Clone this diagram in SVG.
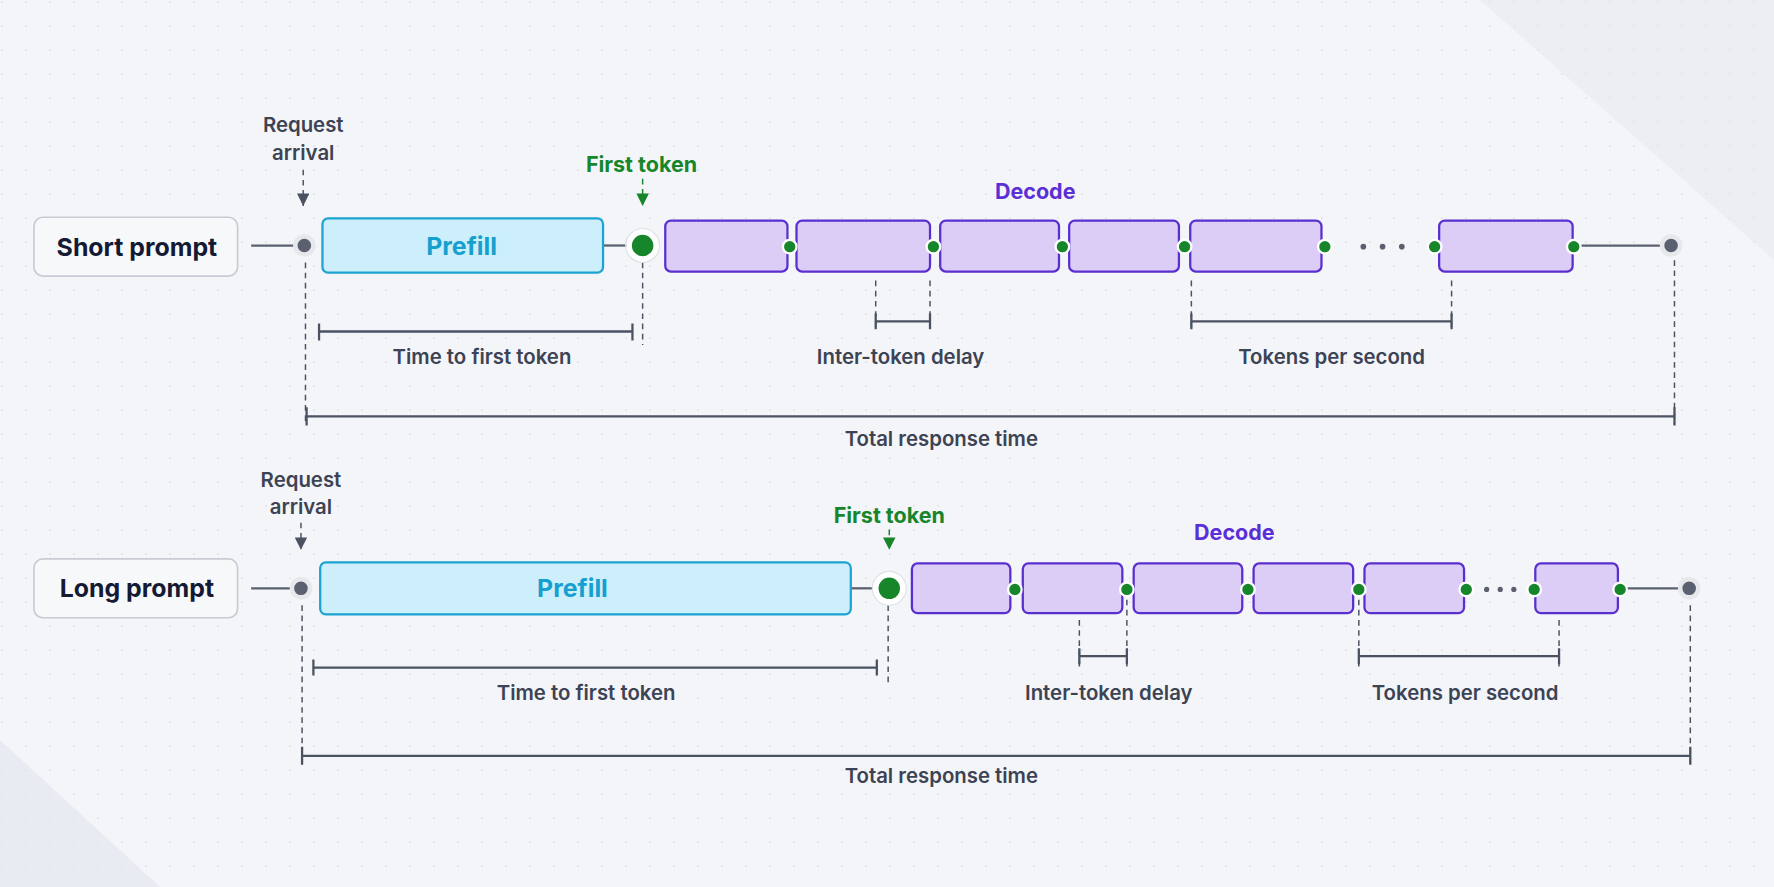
<svg xmlns="http://www.w3.org/2000/svg" width="1774" height="887" viewBox="0 0 1774 887">
<defs>
<pattern id="grid" width="24" height="24" patternUnits="userSpaceOnUse"><circle cx="2" cy="2" r="0.9" fill="#dfe2e8"/></pattern>
<marker id="ag" viewBox="0 0 10 10" refX="10" refY="5" markerWidth="11" markerHeight="11" markerUnits="userSpaceOnUse" orient="auto"><path d="M0,0 L10,5 L0,10 Z" fill="#4a5262"/></marker>
<marker id="agg" viewBox="0 0 10 10" refX="10" refY="5" markerWidth="11" markerHeight="11" markerUnits="userSpaceOnUse" orient="auto"><path d="M0,0 L10,5 L0,10 Z" fill="#17862b"/></marker>
<style>
text{font-family:Inter,"Liberation Sans",sans-serif;text-anchor:middle}
.lbl{font-size:18px;font-weight:600;fill:#3c4354}
.ttl{font-size:22px;font-weight:700;fill:#141a33}
.grn{font-size:19px;font-weight:700;fill:#17862b}
.pur{font-size:19px;font-weight:700;fill:#5b2fd6}
.pre{font-size:22px;font-weight:700;fill:#16a0cf}
.pbox{fill:#cdeffb;stroke:#1ba3d1;stroke-width:2}
.dbox{fill:#dccdf6;stroke:#5a2fcf;stroke-width:2}
.tbox{fill:#f7f8fa;stroke:#c8cbd3;stroke-width:1.5}
.sd{fill:#17862b;stroke:#fff;stroke-width:2}
.bd{fill:#17862b;stroke:#fff;stroke-width:5}
.bdr{fill:none;stroke:#dfe2e8;stroke-width:1}
.gd{fill:#5a6070;stroke:#e6e8ec;stroke-width:4}
.ln{stroke:#5a6070;stroke-width:2;fill:none}
.br{stroke:#4a5262;stroke-width:2;fill:none}
.ds{stroke:#4a5262;stroke-width:1.3;stroke-dasharray:5 4;fill:none}
.ell{fill:#5a6070}
</style>
</defs>
<rect width="1774" height="887" fill="#f4f5f8"/>
<polygon points="1480,0 1774,0 1774,260" fill="#eceef4"/>
<polygon points="0,740 0,887 160,887" fill="#e9ebf2"/>
<rect width="1774" height="887" fill="url(#grid)"/>
<g transform="scale(1.1314)">
<g id="connectors">
<line class="ln" x1="222" y1="217" x2="262" y2="217"/>
<line class="ln" x1="533" y1="217" x2="560" y2="217"/>
<line class="ln" x1="1392" y1="217" x2="1470" y2="217"/>
<line class="ds" x1="268" y1="150" x2="268" y2="182" marker-end="url(#ag)"/>
<line class="ds" x1="568" y1="158" x2="568" y2="182" marker-end="url(#agg)" style="stroke:#17862b"/>
<line class="ds" x1="270" y1="232" x2="270" y2="375"/>
<line class="ds" x1="568" y1="232" x2="568" y2="305"/>
<line class="ds" x1="1480" y1="230" x2="1480" y2="375"/>
<line class="ds" x1="774" y1="248" x2="774" y2="292"/>
<line class="ds" x1="822" y1="248" x2="822" y2="292"/>
<line class="ds" x1="1053" y1="248" x2="1053" y2="292"/>
<line class="ds" x1="1283" y1="248" x2="1283" y2="292"/>
<path class="br" d="M282,286V301M282,293H559M559,286V301"/>
<path class="br" d="M774,277V291M774,284H822M822,277V291"/>
<path class="br" d="M1053,277V291M1053,284H1283M1283,277V291"/>
<path class="br" d="M271,360V376M271,368H1480M1480,360V376"/>
<line class="ln" x1="222" y1="520" x2="258" y2="520"/>
<line class="ln" x1="752" y1="520" x2="778" y2="520"/>
<line class="ln" x1="1433" y1="520" x2="1484" y2="520"/>
<line class="ds" x1="266" y1="462" x2="266" y2="486" marker-end="url(#ag)"/>
<line class="ds" x1="786" y1="468" x2="786" y2="486" marker-end="url(#agg)" style="stroke:#17862b"/>
<line class="ds" x1="267" y1="535" x2="267" y2="675"/>
<line class="ds" x1="785" y1="535" x2="785" y2="603"/>
<line class="ds" x1="1494" y1="535" x2="1494" y2="675"/>
<line class="ds" x1="954" y1="548" x2="954" y2="590"/>
<line class="ds" x1="996" y1="530" x2="996" y2="590"/>
<line class="ds" x1="1201" y1="530" x2="1201" y2="590"/>
<line class="ds" x1="1378" y1="548" x2="1378" y2="590"/>
<path class="br" d="M277,583V597M277,590H775M775,583V597"/>
<path class="br" d="M954,573V587M954,580H996M996,573V587"/>
<path class="br" d="M1201,573V587M1201,580H1378M1378,573V587"/>
<path class="br" d="M267,660V676M267,668H1494M1494,660V676"/>
</g>
<g id="row-short">
<g id="short-label"><rect class="tbox" x="30" y="192" width="180" height="52" rx="8"/><text class="ttl" x="121" y="226">Short prompt</text></g>
<g id="short-arrival"><text class="lbl" x="268" y="117">Request</text><text class="lbl" x="268" y="141">arrival</text><circle class="gd" cx="269" cy="217" r="8"/></g>
<g id="short-prefill"><rect class="pbox" x="285" y="193" width="248" height="48" rx="5"/><text class="pre" x="408" y="225">Prefill</text></g>
<g id="short-first"><text class="grn" x="567" y="152">First token</text><circle class="bd" cx="568" cy="217" r="12"/><circle class="bdr" cx="568" cy="217" r="15"/></g>
<g id="short-decode"><text class="pur" x="915" y="176">Decode</text>
<rect class="dbox" x="588" y="195" width="108" height="45" rx="5"/>
<rect class="dbox" x="704" y="195" width="118" height="45" rx="5"/>
<rect class="dbox" x="831" y="195" width="105" height="45" rx="5"/>
<rect class="dbox" x="945" y="195" width="97" height="45" rx="5"/>
<rect class="dbox" x="1052" y="195" width="116" height="45" rx="5"/>
<rect class="dbox" x="1272" y="195" width="118" height="45" rx="5"/>
<circle class="sd" cx="698" cy="218" r="6"/><circle class="sd" cx="825" cy="218" r="6"/><circle class="sd" cx="939" cy="218" r="6"/><circle class="sd" cx="1047" cy="218" r="6"/><circle class="sd" cx="1171" cy="218" r="6"/><circle class="sd" cx="1268" cy="218" r="6"/><circle class="sd" cx="1391" cy="218" r="6"/>
<circle class="ell" cx="1205" cy="218" r="2.5"/><circle class="ell" cx="1222" cy="218" r="2.5"/><circle class="ell" cx="1239" cy="218" r="2.5"/></g>
<g id="short-end"><circle class="gd" cx="1477" cy="217" r="8"/></g>
<text class="lbl" x="426" y="322">Time to first token</text>
<text class="lbl" x="796" y="322">Inter-token delay</text>
<text class="lbl" x="1177" y="322">Tokens per second</text>
<text class="lbl" x="832" y="394">Total response time</text>
</g>
<g id="row-long">
<g id="long-label"><rect class="tbox" x="30" y="494" width="180" height="52" rx="8"/><text class="ttl" x="121" y="528">Long prompt</text></g>
<g id="long-arrival"><text class="lbl" x="266" y="430">Request</text><text class="lbl" x="266" y="454">arrival</text><circle class="gd" cx="266" cy="520" r="8"/></g>
<g id="long-prefill"><rect class="pbox" x="283" y="497" width="469" height="46" rx="5"/><text class="pre" x="506" y="528">Prefill</text></g>
<g id="long-first"><text class="grn" x="786" y="462">First token</text><circle class="bd" cx="786" cy="520" r="12"/><circle class="bdr" cx="786" cy="520" r="15"/></g>
<g id="long-decode"><text class="pur" x="1091" y="477">Decode</text>
<rect class="dbox" x="806" y="498" width="87" height="44" rx="5"/>
<rect class="dbox" x="904" y="498" width="88" height="44" rx="5"/>
<rect class="dbox" x="1002" y="498" width="96" height="44" rx="5"/>
<rect class="dbox" x="1108" y="498" width="88" height="44" rx="5"/>
<rect class="dbox" x="1206" y="498" width="88" height="44" rx="5"/>
<rect class="dbox" x="1357" y="498" width="73" height="44" rx="5"/>
<circle class="sd" cx="897" cy="521" r="6"/><circle class="sd" cx="996" cy="521" r="6"/><circle class="sd" cx="1103" cy="521" r="6"/><circle class="sd" cx="1201" cy="521" r="6"/><circle class="sd" cx="1296" cy="521" r="6"/><circle class="sd" cx="1356" cy="521" r="6"/><circle class="sd" cx="1432" cy="521" r="6"/>
<circle class="ell" cx="1314" cy="521" r="2.3"/><circle class="ell" cx="1326" cy="521" r="2.3"/><circle class="ell" cx="1338" cy="521" r="2.3"/></g>
<g id="long-end"><circle class="gd" cx="1493" cy="520" r="8"/></g>
<text class="lbl" x="518" y="619">Time to first token</text>
<text class="lbl" x="980" y="619">Inter-token delay</text>
<text class="lbl" x="1295" y="619">Tokens per second</text>
<text class="lbl" x="832" y="692">Total response time</text>
</g>
</g>
</svg>
